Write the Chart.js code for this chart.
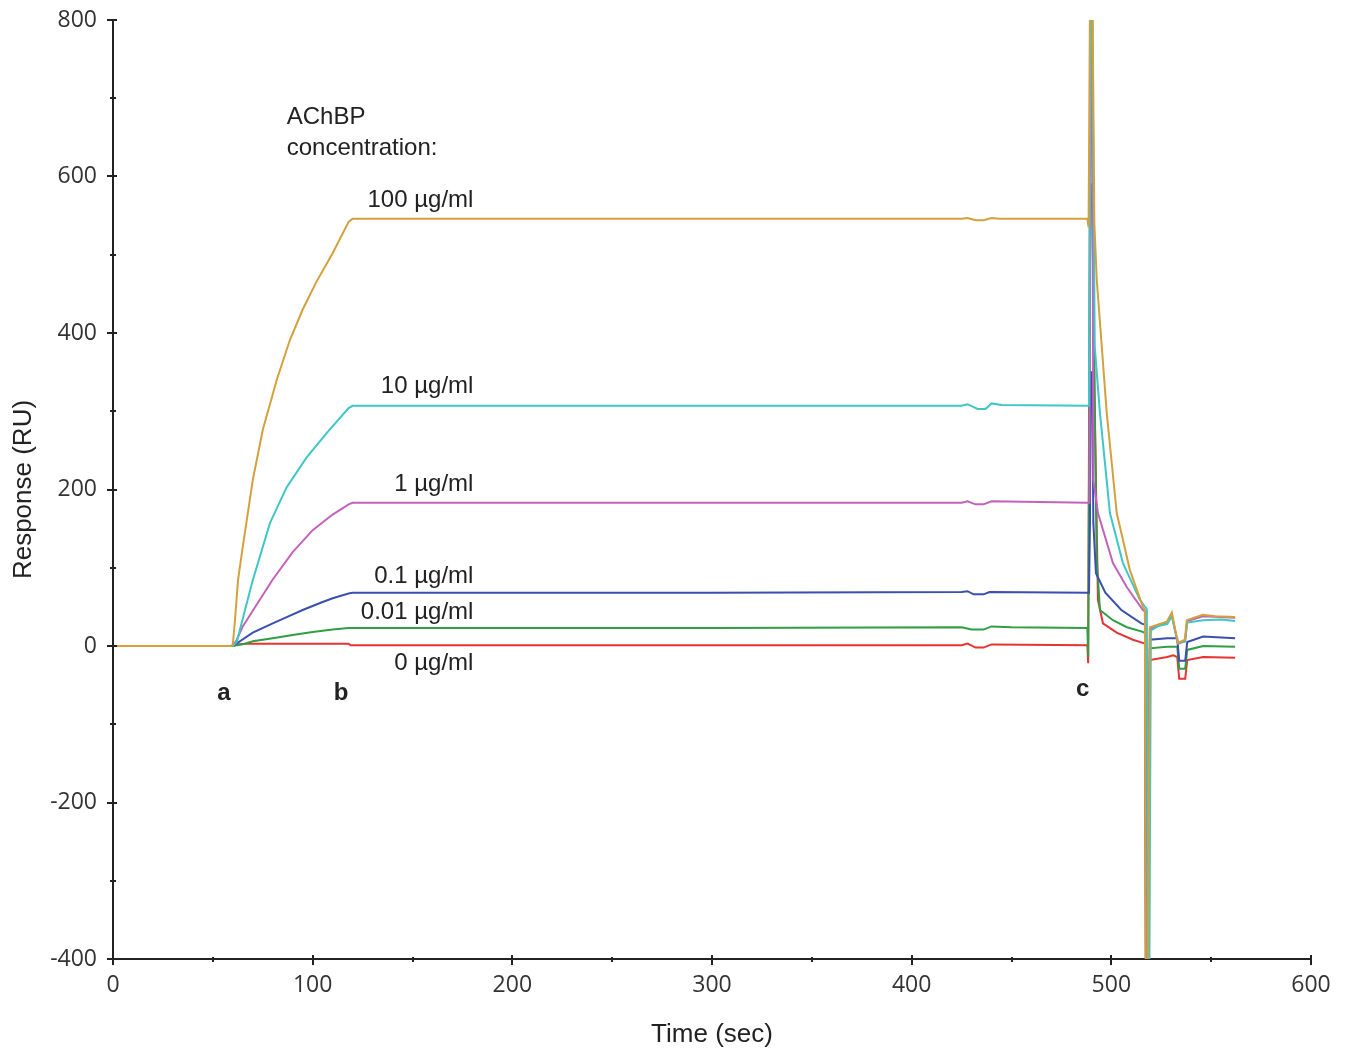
<!DOCTYPE html>
<html>
<head>
<meta charset="utf-8">
<script src="https://cdn.jsdelivr.net/npm/chart.js@4"></script>
<style>
  html, body { margin: 0; padding: 0; background: #fff; }
  #wrap { width: 1347px; height: 1052px; }
</style>
</head>
<body>
<div id="wrap"><canvas id="sprChart"></canvas></div>
<script>
// sensorgram values (time in sec, response in RU)
const t100 = [0, 59, 60, 61, 62.6, 65, 70, 75, 82, 88.6, 95, 102, 110, 118, 120, 300, 425, 428, 432, 436, 440, 444, 488, 488.6, 489.3, 490.6, 491.5, 492.7, 497.7, 502.7, 509.3, 515.8, 516.8, 517.2, 518.2, 519.3, 524, 527.8, 530.3, 533.3, 536.8, 537.8, 545.8, 552, 562];
const r100 = [0, 0, 2, 30, 84, 127, 212, 276, 340, 391, 430, 466, 502, 542, 546, 546, 546, 547, 544, 544, 547, 546, 546, 535, 820, 820, 540, 468, 298, 170, 97, 50, 46, -450, -450, 24, 28, 31, 43, 4, 8, 33, 40, 38, 37];

const t10 = [0, 59, 60, 62, 66, 70, 78.6, 87, 97, 107, 118, 120, 300, 425, 428, 433, 437, 440, 445, 488, 488.8, 489.6, 490.4, 491.7, 494.3, 499.3, 505.8, 514.3, 517.8, 518.3, 519, 519.8, 524, 528, 530.3, 533.3, 536.8, 538, 546, 555, 562];
const r10 = [0, 0, 0, 5, 45, 84, 157, 203, 241, 272, 304, 307, 307, 307, 309, 303, 303, 310, 308, 307, 307, 820, 820, 382, 298, 170, 106, 59, 47, -450, -450, 20, 26, 28, 38, 4, 6, 30, 33, 34, 32];

const t1 = [0, 59, 60, 62, 65, 70, 80, 90, 100, 110, 118, 120, 300, 425, 428, 432, 436, 440, 488, 489, 489.8, 490.4, 491, 493.3, 500.8, 507.8, 515.8, 517, 517.4, 518.2, 519.3, 528, 530.3, 533.3, 537, 538, 546, 562];
const r1 = [0, 0, 0, 8, 25, 45, 85, 120, 148, 168, 181, 183, 183, 183, 185, 181, 181, 185, 183, 183, 820, 820, 212, 170, 106, 75, 46, 44, -450, -450, 22, 30, 40, 3, 6, 32, 38, 36];

const t01 = [0, 59, 60, 70, 80, 87, 95, 103.7, 110, 118, 120, 300, 425, 428, 431, 436, 439, 488, 488.8, 489.3, 489.6, 490.4, 491, 492.3, 497, 505, 515, 517, 517.3, 518.2, 519.3, 528, 533, 534, 537, 538, 546, 562];
const r01 = [0, 0, 0, 17, 29, 37, 46, 55, 61, 67, 68, 68, 69, 70, 66, 66, 69, 68, 68, 157, 350, 350, 157, 93, 68, 46, 29, 27, -450, -450, 8, 10, 10, -19, -19, 5, 12, 10];

const t001 = [0, 59, 60, 66, 70, 80, 90, 100, 110, 118, 120, 300, 425, 430, 436, 440, 450, 488, 488.4, 488.7, 489.5, 490.3, 492.7, 494.3, 500.8, 507.8, 515.8, 517, 517.4, 518.2, 519.3, 528, 533, 534, 537, 538, 546, 562];
const r001 = [0, 0, 0, 3, 6, 10, 14, 18, 21, 23, 23, 23, 24, 21, 21, 25, 24, 23, -14, -14, 590, 590, 110, 46, 33, 24, 18, 16, -450, -450, -3, -1, -1, -29, -29, -5, 0, -1];

const t0 = [0, 59, 60, 62, 67, 118, 119, 300, 425, 428, 432, 436, 440, 488, 488.4, 488.8, 489.6, 490.2, 491.5, 493.3, 495.8, 502.7, 510.8, 515.8, 517, 517.4, 518.2, 519.3, 528, 531, 533, 534, 537, 538, 546, 562];
const r0 = [0, 0, 0, 2, 3, 3, 1, 1, 1, 3, -2, -2, 2, 1, -22, -22, 820, 820, 330, 59, 29, 17, 8, 4, 3, -450, -450, -18, -14, -12, -14, -42, -42, -18, -14, -15];

const seriesNames = ['100 µg/ml', '10 µg/ml', '1 µg/ml', '0.1 µg/ml', '0.01 µg/ml', '0 µg/ml'];
const seriesTimes = [t100, t10, t1, t01, t001, t0];
const seriesValues = [r100, r10, r1, r01, r001, r0];
const seriesColors = ['#d4a03c', '#3ec6c8', '#c462ba', '#3a4fae', '#2f9e44', '#e83232'];

const xTicks = [0, 100, 200, 300, 400, 500, 600];
const yTicks = [-400, -200, 0, 200, 400, 600, 800];

// text written on the plot, placed in data units
const notes = [
  { text: 'AChBP', x: 87, y: 675, align: 'left', bold: false },
  { text: 'concentration:', x: 87, y: 636, align: 'left', bold: false },
  { text: '100 µg/ml', x: 180.5, y: 570, align: 'right', bold: false },
  { text: '10 µg/ml', x: 180.5, y: 332, align: 'right', bold: false },
  { text: '1 µg/ml', x: 180.5, y: 207, align: 'right', bold: false },
  { text: '0.1 µg/ml', x: 180.5, y: 89, align: 'right', bold: false },
  { text: '0.01 µg/ml', x: 180.5, y: 43, align: 'right', bold: false },
  { text: '0 µg/ml', x: 180.5, y: -22, align: 'right', bold: false },
  { text: 'a', x: 55.6, y: -61, align: 'center', bold: true },
  { text: 'b', x: 114.2, y: -61, align: 'center', bold: true },
  { text: 'c', x: 485.7, y: -56, align: 'center', bold: true }
];

const datasets = seriesNames.map((name, i) => ({
  label: name,
  data: seriesTimes[i].map((t, j) => ({ x: t, y: seriesValues[i][j] })),
  borderColor: seriesColors[i],
  borderWidth: 2,
  pointRadius: 0,
  tension: 0,
  fill: false
}));

// tick marks crossing the axis lines, major and minor
const axisTicks = {
  id: 'axisTicks',
  afterDraw(chart) {
    const { ctx, chartArea, scales } = chart;
    ctx.save();
    ctx.strokeStyle = '#222';
    ctx.lineWidth = 2;
    for (let v = 0; v <= 600; v += 50) {
      const px = Math.round(scales.x.getPixelForValue(v));
      const major = v % 100 === 0;
      ctx.beginPath();
      ctx.moveTo(px, chartArea.bottom - (major ? 4 : 2));
      ctx.lineTo(px, chartArea.bottom + (major ? 6 : 3));
      ctx.stroke();
    }
    for (let v = -400; v <= 800; v += 100) {
      const py = Math.round(scales.y.getPixelForValue(v));
      const major = v % 200 === 0;
      ctx.beginPath();
      ctx.moveTo(chartArea.left - (major ? 6 : 3), py);
      ctx.lineTo(chartArea.left + (major ? 4 : 3), py);
      ctx.stroke();
    }
    ctx.restore();
  }
};

const plotNotes = {
  id: 'plotNotes',
  afterDatasetsDraw(chart) {
    const { ctx, scales } = chart;
    ctx.save();
    ctx.fillStyle = '#222';
    ctx.textBaseline = 'middle';
    notes.forEach(n => {
      ctx.font = (n.bold ? 'bold ' : '') + '24px "Liberation Sans", Arial, sans-serif';
      ctx.textAlign = n.align;
      ctx.fillText(n.text, scales.x.getPixelForValue(n.x), scales.y.getPixelForValue(n.y));
    });
    ctx.restore();
  }
};

const ctx = document.getElementById('sprChart').getContext('2d');
const sprChart = new Chart(ctx, {
  type: 'line',
  data: { datasets: datasets },
  options: {
    responsive: true,
    maintainAspectRatio: false,
    animation: false,
    layout: { padding: { top: 20, right: 36, left: 0, bottom: 0 } },
    plugins: {
      legend: { display: false },
      tooltip: { enabled: false }
    },
    scales: {
      x: {
        type: 'linear',
        min: 0,
        max: 600,
        afterFit: s => { s.height = 93; s.paddingLeft = 0; s.paddingRight = 0; },
        afterBuildTicks: s => { s.ticks = xTicks.map(v => ({ value: v })); },
        grid: { display: false, drawTicks: false },
        border: { display: true, color: '#222', width: 2 },
        ticks: {
          padding: 13,
          color: '#333',
          maxRotation: 0,
          font: { family: '"Open Sans", sans-serif', size: 23 }
        },
        title: {
          display: true,
          text: 'Time (sec)',
          color: '#222',
          padding: { top: 0, bottom: 2 },
          font: { family: '"Liberation Sans", Arial, sans-serif', size: 26 }
        }
      },
      y: {
        type: 'linear',
        min: -400,
        max: 800,
        afterFit: s => { s.width = 113; s.paddingTop = 0; s.paddingBottom = 0; },
        afterBuildTicks: s => { s.ticks = yTicks.map(v => ({ value: v })); },
        grid: { display: false, drawTicks: false },
        border: { display: true, color: '#222', width: 2 },
        ticks: {
          padding: 16,
          color: '#333',
          font: { family: '"Open Sans", sans-serif', size: 23 }
        },
        title: {
          display: true,
          text: 'Response (RU)',
          color: '#222',
          padding: { top: 8, bottom: 0 },
          font: { family: '"Liberation Sans", Arial, sans-serif', size: 26 }
        }
      }
    }
  },
  plugins: [axisTicks, plotNotes]
});
</script>
</body>
</html>
